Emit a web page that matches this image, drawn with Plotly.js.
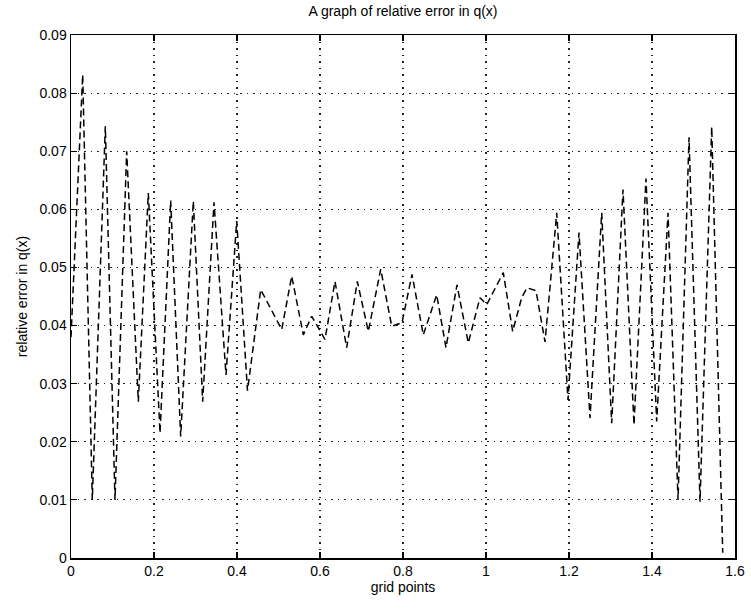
<!DOCTYPE html>
<html>
<head>
<meta charset="utf-8">
<script src="https://cdn.plot.ly/plotly-3.0.1.min.js"></script>
<style>html,body{margin:0;padding:0;background:#fff;}#chart{width:751px;height:609px;}</style>
</head>
<body>
<div id="chart"></div>
<script>
// grid point positions
var gridX = [0.000, 0.0282, 0.0513, 0.0827, 0.1060, 0.1342, 0.1622, 0.1863, 0.2145, 0.2402,
  0.2643, 0.2947, 0.3173, 0.3446, 0.3735, 0.3993, 0.4253, 0.4571, 0.5077, 0.5318,
  0.5598, 0.5800, 0.6120, 0.6361, 0.6643, 0.6899, 0.7164, 0.7463, 0.7728, 0.7976,
  0.8217, 0.8489, 0.8812, 0.9036, 0.9301, 0.9573, 0.9855, 1.0017, 1.0417, 1.0643,
  1.0860, 1.0988, 1.1205, 1.1422, 1.1704, 1.1976, 1.2241, 1.2506, 1.2788, 1.3029,
  1.3301, 1.3566, 1.3855, 1.4113, 1.4386, 1.4627, 1.4892, 1.5157, 1.5439, 1.5704];
// relative error in q(x)
var relErr = [0.0380, 0.0832, 0.0100, 0.0743, 0.0100, 0.0700, 0.0269, 0.0628, 0.0215, 0.0615,
  0.0209, 0.0614, 0.0269, 0.0612, 0.0315, 0.0580, 0.0288, 0.0462, 0.0393, 0.0485,
  0.0384, 0.0416, 0.0376, 0.0476, 0.0362, 0.0476, 0.0390, 0.0497, 0.0399, 0.0405,
  0.0488, 0.0384, 0.0453, 0.0362, 0.0470, 0.0370, 0.0448, 0.0436, 0.0491, 0.0390,
  0.0448, 0.0465, 0.0460, 0.0372, 0.0594, 0.0272, 0.0560, 0.0241, 0.0594, 0.0232,
  0.0634, 0.0229, 0.0653, 0.0235, 0.0594, 0.0100, 0.0724, 0.0097, 0.0742, 0.0009];

var font = {family: 'Liberation Sans, Arial, sans-serif', size: 14, color: '#000'};

var trace = {
  x: gridX, y: relErr, type: 'scatter', mode: 'lines',
  line: {color: '#000', width: 1.5, dash: '7px,4px'},
  hoverinfo: 'skip'
};

var axisCommon = {
  showline: true, linecolor: '#000', linewidth: 1.5, mirror: 'ticks',
  ticks: 'inside', ticklen: 6, tickwidth: 1.2, tickcolor: '#000',
  showgrid: true, gridcolor: '#222', gridwidth: 1.2, griddash: '1.5px,5px',
  zeroline: false, tickfont: font
};

var layout = {
  width: 751, height: 609,
  margin: {l: 71, r: 16, t: 35, b: 51},
  paper_bgcolor: '#fff', plot_bgcolor: '#fff',
  showlegend: false,
  font: font,
  title: {text: 'A graph of relative error in q(x)', font: {family: font.family, size: 14, color: '#000'},
          x: 0.5, xref: 'paper', y: 1, yref: 'container', yanchor: 'top', pad: {t: 6}},
  xaxis: Object.assign({}, axisCommon, {
    range: [0, 1.6], dtick: 0.2, tick0: 0,
    title: {text: 'grid points', font: font, standoff: 4}
  }),
  yaxis: Object.assign({}, axisCommon, {
    range: [0, 0.09], dtick: 0.01, tick0: 0,
    title: {text: 'relative error in q(x)', font: font, standoff: 8}
  })
};

Plotly.newPlot('chart', [trace], layout, {displayModeBar: false, staticPlot: true});
</script>
</body>
</html>
